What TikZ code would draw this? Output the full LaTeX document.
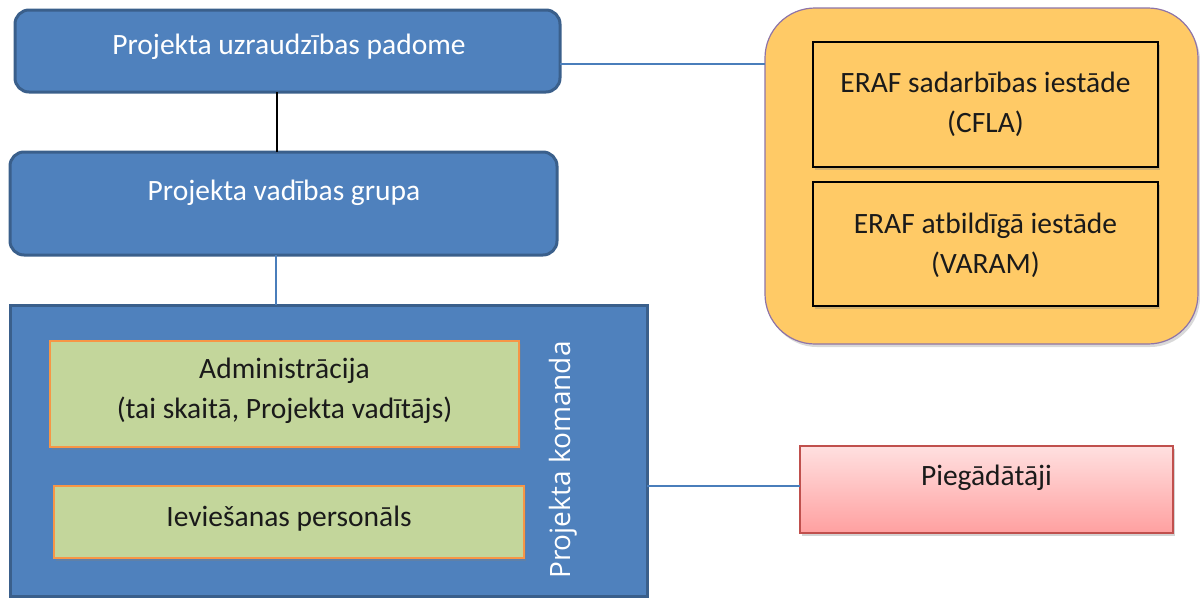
\documentclass[tikz,border=0pt]{standalone}
\usepackage{fontspec}
\setmainfont{Carlito}
\newfontfamily\kfont{Open Sans}
\usetikzlibrary{shadows}
\definecolor{bfill}{HTML}{4F81BD}
\definecolor{bline}{HTML}{3A5F8B}
\definecolor{gfill}{HTML}{C3D69B}
\definecolor{gline}{HTML}{F79646}
\definecolor{ofill}{HTML}{FFCA66}
\definecolor{oline}{HTML}{8E74A8}
\definecolor{ptop}{HTML}{FFE0E0}
\definecolor{pbot}{HTML}{FFA0A0}
\definecolor{pline}{HTML}{C0504D}
\definecolor{conn}{HTML}{4A7EBB}
\definecolor{txt}{HTML}{1A1A1A}
\begin{document}
\begin{tikzpicture}[x=1pt,y=-1pt,
  every node/.style={inner sep=0pt,outer sep=0pt},
  bluebox/.style={draw=bline,line width=3pt,fill=bfill,rounded corners=14pt},
  teambox/.style={draw=bline,line width=3pt,fill=bfill},
  greenbox/.style={draw=gline,line width=1.5pt,fill=gfill,
    drop shadow={opacity=0.35,shadow xshift=2pt,shadow yshift=-3pt}},
  innerbox/.style={draw=black,line width=1.6pt,fill=ofill,
    drop shadow={opacity=0.35,shadow xshift=2pt,shadow yshift=-3pt}},
  outerbox/.style={draw=oline,line width=1.2pt,fill=ofill,rounded corners=50pt,
    drop shadow={opacity=0.3,shadow xshift=2pt,shadow yshift=-3pt}},
  suppbox/.style={draw=pline,line width=1.5pt,top color=ptop,bottom color=pbot,
    drop shadow={opacity=0.35,shadow xshift=2pt,shadow yshift=-3pt}},
  wtxt/.style={text=white,font=\fontsize{29.5}{40}\selectfont,align=center},
  dtxt/.style={text=txt,font=\fontsize{29.5}{40}\selectfont,align=center},
  conline/.style={draw=conn,line width=1.3pt},
  blackline/.style={draw=black,line width=1.5pt}]
\useasboundingbox (0,0) rectangle (1200,598);

% right group
\node[outerbox,minimum width=433pt,minimum height=336pt] (org) at (981.5,176) {};
\node[innerbox,minimum width=345pt,minimum height=125pt] (cfla) at (985.5,104.5) {};
\node[dtxt] (cflat) at (985.5,104.5) {ERAF sadarbības iestāde\\(CFLA)};
\node[innerbox,minimum width=345pt,minimum height=124pt] (varam) at (985.5,244) {};
\node[dtxt] (varamt) at (985.5,245) {ERAF atbildīgā iestāde\\(VARAM)};

% left column
\node[bluebox,minimum width=545pt,minimum height=82pt] (board) at (287.5,51) {};
\node[wtxt] (boardt) at (289,47) {Projekta uzraudzības padome};
\node[bluebox,minimum width=547pt,minimum height=103pt] (grp) at (283.5,203.5) {};
\node[wtxt] (grpt) at (284,193) {Projekta vadības grupa};

\node[teambox,minimum width=637pt,minimum height=291pt] (team) at (328.5,450.5) {};
\node[greenbox,minimum width=469pt,minimum height=106pt] (adm) at (284.5,394) {};
\node[dtxt] (admt) at (284.5,391) {Administrācija\\(tai skaitā, Projekta vadītājs)};
\node[greenbox,minimum width=470pt,minimum height=72pt] (impl) at (289,522) {};
\node[dtxt] (implt) at (289,519) {Ieviešanas personāls};
\node[text=white,font=\kfont\fontsize{28}{32}\selectfont,rotate=90] (teamt) at (563,460) {Projekta komanda};

\node[suppbox,minimum width=373pt,minimum height=87pt] (supp) at (986.5,489.5) {};
\node[dtxt] (suppt) at (986.5,478) {Piegādātāji};

% connectors
\coordinate (c1) at (277,0);
\coordinate (c2) at (276,0);
\draw[blackline] (board.south -| c1) -- (grp.north -| c1);
\draw[conline] (grp.south -| c2) -- (team.north -| c2);
\draw[conline] ([yshift=-13pt]board.east) -- ([yshift=-13pt]board.east -| org.west);
\draw[conline] ([yshift=3.5pt]supp.west -| team.east) -- ([yshift=3.5pt]supp.west);
\end{tikzpicture}
\end{document}
